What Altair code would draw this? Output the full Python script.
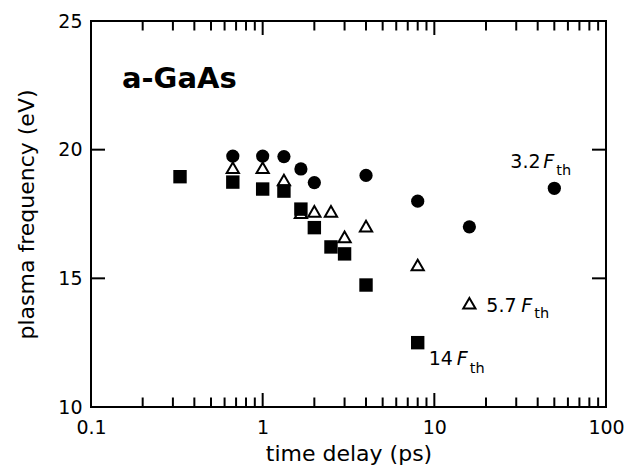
import altair as alt
import pandas as pd

# Plasma frequency vs. pump-probe delay for amorphous GaAs at three fluences
delay_circ = [0.67, 1.0, 1.33, 1.67, 2.0, 4.0, 8.0, 16.0, 50.0]
freq_circ = [19.75, 19.75, 19.73, 19.25, 18.72, 19.0, 18.0, 17.0, 18.5]

delay_tri = [0.67, 1.0, 1.33, 1.67, 2.0, 2.5, 3.0, 4.0, 8.0, 16.0]
freq_tri = [19.3, 19.3, 18.82, 17.55, 17.6, 17.6, 16.61, 17.03, 15.52, 14.03]

delay_sq = [0.33, 0.67, 1.0, 1.33, 1.67, 2.0, 2.5, 3.0, 4.0, 8.0]
freq_sq = [18.95, 18.74, 18.47, 18.39, 17.69, 16.97, 16.22, 15.95, 14.74, 12.5]

# Fluence labels (multiples of the threshold fluence)
fluence_circ = "3.2"
fluence_tri = "5.7"
fluence_sq = "14"

# Axis labels / ticks
x_label_values = [0.1, 1, 10, 100]
x_minor_ticks = [0.2, 0.3, 0.4, 0.5, 0.6, 0.7, 0.8, 0.9,
                 2, 3, 4, 5, 6, 7, 8, 9,
                 20, 30, 40, 50, 60, 70, 80, 90]
x_major_ticks = [1, 10]
y_label_values = [10, 15, 20, 25]
y_major_ticks = [15, 20]

W, H = 515, 386
FONT = "DejaVu Sans"
xs = alt.Scale(type="log", domain=[0.1, 100], nice=False)
ys = alt.Scale(domain=[10, 25], nice=False, zero=False)

x_axis = alt.Axis(values=x_label_values, format="~g", ticks=False, domain=False,
                  grid=False, labelFlush=False, labelFontSize=19, labelFont=FONT,
                  labelColor="black", labelPadding=11, title="time delay (ps)",
                  titleFont=FONT, titleFontSize=22, titleFontWeight="normal",
                  titleColor="black", titlePadding=6)
y_axis = alt.Axis(values=y_label_values, ticks=False, domain=False, grid=False,
                  labelFontSize=19, labelFont=FONT, labelColor="black",
                  labelPadding=9, title="plasma frequency (eV)", titleFont=FONT,
                  titleFontSize=22, titleFontWeight="normal", titleColor="black",
                  titlePadding=19)

X = alt.X("delay:Q", scale=xs, axis=x_axis)
Y = alt.Y("freq:Q", scale=ys, axis=y_axis)

circ_df = pd.DataFrame({"delay": delay_circ, "freq": freq_circ})
tri_df = pd.DataFrame({"delay": delay_tri, "freq": freq_tri})
sq_df = pd.DataFrame({"delay": delay_sq, "freq": freq_sq})

triangles = alt.Chart(tri_df).mark_point(
    shape="triangle-up", filled=True, fill="white", stroke="black",
    strokeWidth=2, size=150, opacity=1, fillOpacity=1, strokeOpacity=1
).encode(x=X, y=Y)

squares = alt.Chart(sq_df).mark_square(size=180, color="black", opacity=1).encode(x=X, y=Y)

circles = alt.Chart(circ_df).mark_circle(size=175, color="black", opacity=1).encode(x=X, y=Y)


# Inward-pointing tick marks on all four sides of the frame
def x_ticks(values, length):
    df = pd.DataFrame({"delay": values})
    bottom = alt.Chart(df).mark_rule(color="black", strokeWidth=2).encode(
        x=X, y=alt.value(H), y2=alt.value(H - length))
    top = alt.Chart(df).mark_rule(color="black", strokeWidth=2).encode(
        x=X, y=alt.value(0), y2=alt.value(length))
    return [bottom, top]


def y_ticks(values, length):
    df = pd.DataFrame({"freq": values})
    left = alt.Chart(df).mark_rule(color="black", strokeWidth=2).encode(
        y=Y, x=alt.value(0), x2=alt.value(length))
    right = alt.Chart(df).mark_rule(color="black", strokeWidth=2).encode(
        y=Y, x=alt.value(W), x2=alt.value(W - length))
    return [left, right]


tick_layers = x_ticks(x_minor_ticks, 9.5) + x_ticks(x_major_ticks, 14) + y_ticks(y_major_ticks, 14)


# Fluence annotation next to a series' last point: "<n> F_th"
def fluence_label(x, y, number, dx, dy, f_dx, th_dx, th_dy):
    df = pd.DataFrame({"delay": [x], "freq": [y]})
    parts = [
        (number, dx, dy, 19, "normal"),
        ("F", f_dx, dy, 19, "italic"),
        ("th", th_dx, th_dy, 14.5, "normal"),
    ]
    return [alt.Chart(df).mark_text(text=t, dx=ddx, dy=ddy, align="left",
                                    baseline="alphabetic", fontSize=fs, font=FONT,
                                    fontStyle=st, color="black").encode(x=X, y=Y)
            for t, ddx, ddy, fs, st in parts]


labels = (
    fluence_label(delay_circ[-1], freq_circ[-1], fluence_circ, -44, -20, -11, 2, -13)
    + fluence_label(delay_tri[-1], freq_tri[-1], fluence_tri, 17, 9, 52, 65, 15)
    + fluence_label(delay_sq[-1], freq_sq[-1], fluence_sq, 11, 22, 39, 52, 30)
)

title_text = alt.Chart(pd.DataFrame({"t": ["a-GaAs"]})).mark_text(
    align="left", baseline="alphabetic", fontSize=29, fontWeight="bold",
    font=FONT, color="black"
).encode(text="t:N", x=alt.value(31), y=alt.value(67))

chart = alt.layer(
    triangles, squares, circles, *tick_layers, *labels, title_text
).properties(
    width=W, height=H, autosize="none",
    padding={"left": 91, "top": 21, "right": 35, "bottom": 68},
    background="white",
).configure_view(stroke="black", strokeWidth=2)

chart.save("out.html", embed_options={"renderer": "svg", "actions": False})
